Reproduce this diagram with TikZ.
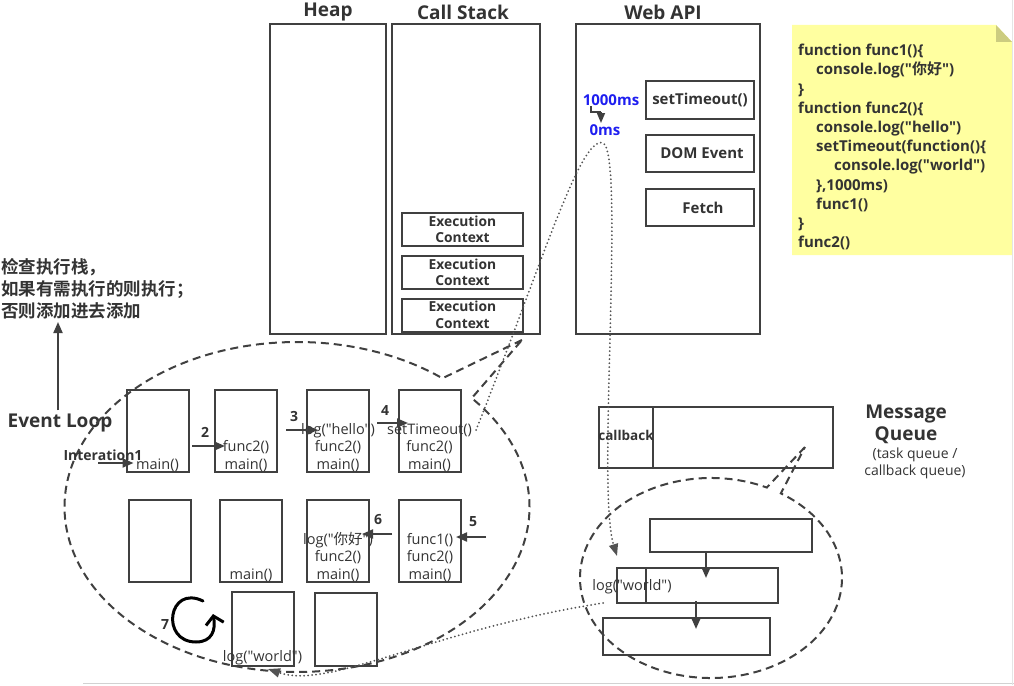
\documentclass[tikz,border=0pt]{standalone}
\usepackage{fontspec}
\setmainfont{Open Sans}[Ligatures=TeXOff]
\newfontfamily\cjk{Noto Sans CJK SC}[BoldFont={Noto Sans CJK SC Bold}, Ligatures=TeXOff]
\usetikzlibrary{arrows.meta, shapes.callouts, positioning}
\definecolor{linegray}{RGB}{64,64,64}
\definecolor{textgray}{RGB}{51,51,51}
\definecolor{tmblue}{RGB}{30,30,240}
\definecolor{noteyellow}{RGB}{255,255,160}
\definecolor{notefold}{RGB}{204,204,128}
\newcommand\fsz[2]{\fontsize{#1}{#2}\selectfont}

\begin{document}
\begin{tikzpicture}[x=1pt, y=-1pt,
    panel/.style={draw=linegray, line width=2pt, inner sep=0pt},
    ctxbox/.style={panel, minimum width=121, minimum height=33, align=center, font=\bfseries\fsz{13.8}{16.5}, text=textgray},
    apibox/.style={panel, minimum width=108, minimum height=37, font=\bfseries\fsz{15}{18}, text=textgray},
    frame/.style={panel, minimum width=62, minimum height=82},
    frametxt/.style={anchor=south, inner sep=1.5pt, align=center, font=\fsz{14.5}{17.5}, text=textgray},
    qbox/.style={panel},
    title/.style={font=\bfseries\fsz{19}{22}, text=textgray},
    num/.style={font=\bfseries\fsz{14}{16}, text=textgray},
    flow/.style={draw=linegray, line width=2pt, -{Triangle[length=11,width=9]}},
    bubble/.style={ellipse callout, draw=linegray, line width=2pt, dash pattern=on 8pt off 5pt},
    trace/.style={draw=linegray!90, line width=2pt, line cap=round, dash pattern=on 0pt off 4pt, -{Triangle[length=12,width=9]}}]
  \useasboundingbox (0,0) rectangle (1014,685);

  % Heap, call stack and web api
  \node[title] (heapt) at (328,12) {Heap};
  \node[title] (stackt) at (463,12) {Call Stack};
  \node[title] (apit) at (663,12) {Web API};
  \node[panel, minimum width=116, minimum height=310] (heap) at (328,179) {};
  \node[panel, minimum width=148, minimum height=310] (stack) at (466,179) {};
  \node[panel, minimum width=184, minimum height=310] (webapi) at (668,179) {};
  \node[ctxbox] (ec1) at (462.5,229.5) {Execution\\Context};
  \node[ctxbox] (ec2) at (462.5,272.5) {Execution\\Context};
  \node[ctxbox] (ec3) at (462.5,315) {Execution\\Context};
  \node[apibox, minimum height=38] (timeout) at (700,100) {setTimeout()};
  \node[apibox] (dom) at (700,153.5) {\hspace*{4pt}DOM Event};
  \node[apibox] (fetch) at (700,207.5) {\hspace*{6pt}Fetch};
  \node[font=\bfseries\fsz{15}{17}, text=tmblue] (t1000) at (611,100) {1000ms};
  \node[font=\bfseries\fsz{15}{17}, text=tmblue] (t0) at (605,130) {0ms};
  \coordinate (tbend) at (601,112);
  \draw[linegray, line width=2pt] (591,106) |- (tbend);
  \draw[linegray, line width=1.5pt, -{Triangle[length=10,width=8]}] (tbend) -- (601,123);

  % Code note
  \fill[noteyellow] (792,25) -- (996,25) -- (1012,42) -- (1012,255) -- (792,255) -- cycle;
  \fill[notefold] (996,25) -- (1012,42) -- (996,42) -- cycle;
  \node[anchor=north west, inner sep=0pt, align=left, font=\bfseries\fsz{15}{19.2}, text=textgray] (code) at (798,44) {%
    function func1()\{\\
    \hspace*{18pt}console.log("{\cjk 你好}")\\
    \}\\
    function func2()\{\\
    \hspace*{18pt}console.log("hello")\\
    \hspace*{18pt}setTimeout(function()\{\\
    \hspace*{36pt}console.log("world")\\
    \hspace*{18pt}\},1000ms)\\
    \hspace*{18pt}func1()\\
    \}\\
    func2()};

  % Event loop
  \node[anchor=north west, inner sep=0pt, align=left, font=\cjk\bfseries\fsz{17.5}{22}, text=textgray] (check) at (1,258) {检查执行栈，\\如果有需执行的则执行；\\否则添加进去添加};
  \node[title] (evloop) at (60,423) {Event Loop};
  \draw[flow] (evloop.north -| 58,0) -- (58,322);
  \node[bubble, minimum width=465, minimum height=330, callout absolute pointer={(522,340)}, callout pointer arc=10] (loop) at (297,507) {};

  % Stack frames
  \node[frame] (f1) at (157.5,431) {};
  \node[frame] (f2) at (246,431) {};
  \node[frame] (f3) at (338,431) {};
  \node[frame] (f4) at (429.5,431) {};
  \node[frame] (g1) at (159.5,541) {};
  \node[frame] (g2) at (251,541) {};
  \node[frame] (g3) at (338,541) {};
  \node[frame] (g4) at (430,541) {};
  \node[frame, minimum height=74] (h1) at (262.5,629) {};
  \node[frame, minimum height=73] (h2) at (345.5,629.5) {};
  \node[frametxt] (f1t) at (f1.south) {main()};
  \node[frametxt] (f2t) at (f2.south) {func2()\\main()};
  \node[frametxt] (f3t) at (f3.south) {log("hello")\\func2()\\main()};
  \node[frametxt] (f4t) at (f4.south) {setTimeout()\\func2()\\main()};
  \node[frametxt] (g2t) at (g2.south) {main()};
  \node[frametxt] (g3t) at (g3.south) {log("{\cjk 你好}")\\func2()\\main()};
  \node[frametxt] (g4t) at (g4.south) {func1()\\func2()\\main()};
  \node[frametxt] (h1t) at (h1.south) {log("world")};

  % Steps
  \node[font=\bfseries\fsz{14}{16}, text=textgray] (iter) at (103,455) {Interation1};
  \coordinate (s1) at (98,463);
  \coordinate (s2) at (192,446);
  \coordinate (s3) at (286,430);
  \coordinate (s4) at (377,423);
  \coordinate (s5) at (486,537);
  \coordinate (s6) at (392,534);
  \draw[flow] (s1) -- (s1 -| f1.west) -- ++(8,0);
  \draw[flow] (s2) -- ++(33,0);
  \draw[flow] (s3) -- ++(32,0);
  \draw[flow] (s4) -- ++(31,0);
  \draw[flow] (s5) -- ++(-30,0);
  \draw[flow] (s6) -- ++(-30,0);
  \node[num] (n2) at (205,432) {2};
  \node[num] (n3) at (294,416) {3};
  \node[num] (n4) at (385,410) {4};
  \node[num] (n5) at (473,522) {5};
  \node[num] (n6) at (378,520) {6};
  \node[num] (n7) at (165,625) {7};
  \draw[black, line width=3pt, line cap=round, -{Straight Barb[length=8,width=18]}] (203,601) .. controls (168,584) and (160,642) .. (196,642) .. controls (212,642) and (216,630) .. (213,614);

  % Message queue
  \node[qbox, minimum width=234, minimum height=61] (mq) at (716,437.5) {};
  \node[qbox, minimum width=54, minimum height=61] (cb) at (626,437.5) {};
  \node[font=\bfseries\fsz{13.5}{15}, text=textgray] (cbt) at (626,435) {callback};
  \node[title, align=center, font=\bfseries\fsz{19}{22}] (mqt) at (906,424) {Message\\Queue};
  \node[align=center, font=\fsz{14}{17}, text=textgray] (mqs) at (915,463) {(task queue /\\callback queue)};
  \node[bubble, minimum width=262, minimum height=200, callout absolute pointer={(805,447)}, callout pointer arc=7] (qloop) at (711,578) {};
  \node[qbox, minimum width=162, minimum height=33] (q1) at (731,535.5) {};
  \node[qbox, minimum width=161, minimum height=35] (q2) at (697.5,585.5) {};
  \node[qbox, minimum width=29, minimum height=35] (q2c) at (631.5,585.5) {};
  \node[qbox, minimum width=167, minimum height=37] (q3) at (686.5,636.5) {};
  \node[font=\fsz{14.5}{16}, text=textgray] (q2t) at (632,587) {log("world")};
  \draw[flow] (q1.south -| 706,0) ++(0,-2) -- ++(0,27);
  \draw[flow] (q2.south -| 696,0) ++(0,-3) -- ++(0,28);

  % Wiring
  \coordinate (fromstack) at (476,430);
  \coordinate (intoqueue) at (617,556);
  \coordinate (fromqueue) at (603,603);
  \coordinate (intostack) at (268,669);
  \draw[trace] (fromstack) .. controls (540,270) and (580,135) .. (603,143) .. controls (615,148) and (612,250) .. (610,340) .. controls (607,450) and (606,520) .. (intoqueue);
  \draw[trace] (fromqueue) .. controls (430,630) and (330,690) .. (intostack);

  % Screenshot edges
  \draw[gray!35, line width=1pt] (83,683) -- (1014,683);
  \draw[gray!20, line width=1pt] (1012,0) -- (1012,685);
\end{tikzpicture}
\end{document}
